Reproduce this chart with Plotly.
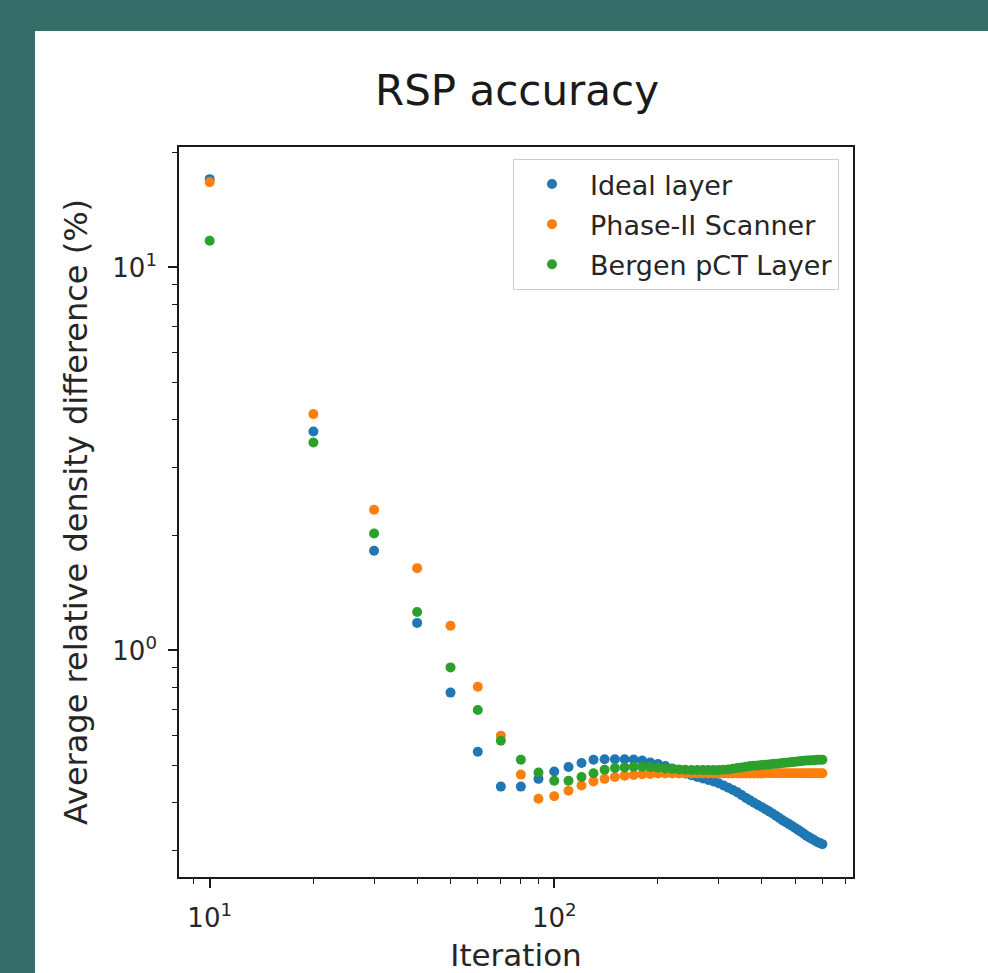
import plotly.graph_objects as go

iterations = [10, 20, 30, 40, 50, 60, 70, 80, 90, 100,
              110, 120, 130, 140, 150, 160, 170, 180, 190, 200,
              210, 220, 230, 240, 250, 260, 270, 280, 290, 300,
              310, 320, 330, 340, 350, 360, 370, 380, 390, 400,
              410, 420, 430, 440, 450, 460, 470, 480, 490, 500,
              510, 520, 530, 540, 550, 560, 570, 580, 590, 600]

ideal_layer = [17.0, 3.73, 1.82, 1.18, 0.776, 0.544, 0.441, 0.441, 0.462, 0.483,
               0.496, 0.508, 0.518, 0.520, 0.520, 0.520, 0.519, 0.516, 0.510, 0.505,
               0.499, 0.492, 0.484, 0.477, 0.472, 0.467, 0.463, 0.459, 0.455, 0.450,
               0.444, 0.438, 0.432, 0.426, 0.419, 0.412, 0.406, 0.400, 0.395, 0.390,
               0.385, 0.380, 0.375, 0.370, 0.365, 0.360, 0.356, 0.352, 0.348, 0.344,
               0.340, 0.336, 0.332, 0.328, 0.325, 0.322, 0.319, 0.316, 0.314, 0.312]

phase2_scanner = [16.7, 4.14, 2.33, 1.64, 1.16, 0.804, 0.599, 0.474, 0.410, 0.416,
                  0.430, 0.444, 0.455, 0.462, 0.467, 0.471, 0.473, 0.475, 0.476, 0.477,
                  0.477, 0.477, 0.477, 0.477, 0.477, 0.477, 0.477, 0.477, 0.477, 0.477,
                  0.477, 0.477, 0.477, 0.477, 0.477, 0.477, 0.477, 0.477, 0.477, 0.477,
                  0.478, 0.478, 0.478, 0.478, 0.478, 0.478, 0.478, 0.478, 0.478, 0.478,
                  0.478, 0.478, 0.478, 0.478, 0.478, 0.478, 0.478, 0.478, 0.478, 0.478]

bergen_pct = [11.74, 3.49, 2.02, 1.26, 0.903, 0.699, 0.581, 0.518, 0.480, 0.457,
              0.457, 0.467, 0.478, 0.488, 0.493, 0.495, 0.497, 0.497, 0.496, 0.494,
              0.492, 0.490, 0.489, 0.488, 0.487, 0.487, 0.487, 0.487, 0.487, 0.487,
              0.488, 0.489, 0.491, 0.493, 0.495, 0.497, 0.499, 0.500, 0.501, 0.502,
              0.503, 0.504, 0.505, 0.506, 0.507, 0.508, 0.509, 0.510, 0.511, 0.512,
              0.513, 0.514, 0.515, 0.516, 0.516, 0.517, 0.517, 0.518, 0.518, 0.518]

series_names = ["Ideal layer", "Phase-II Scanner", "Bergen pCT Layer"]
series_colors = ["#1f77b4", "#ff7f0e", "#2ca02c"]

x_major_ticks = [10, 100]
x_tick_labels = ["10<sup>1</sup>", "10<sup>2</sup>"]
x_minor_ticks = [9, 20, 30, 40, 50, 60, 70, 80, 90, 200, 300, 400, 500, 600, 700]
y_major_ticks = [1, 10]
y_tick_labels = ["10<sup>0</sup>", "10<sup>1</sup>"]
y_minor_ticks = [0.3, 0.4, 0.5, 0.6, 0.7, 0.8, 0.9, 2, 3, 4, 5, 6, 7, 8, 9, 20]

FONT = "DejaVu Sans"
W, H = 988, 973
ML, MR, MT, MB = 179, 135, 147, 96
PW, PH = W - ML - MR, H - MT - MB

def px_to_paper_x(px):
    return (px - ML) / PW

def px_to_paper_y(py):
    return (H - MB - py) / PH

fig = go.Figure()
for i, (name, vals, col) in enumerate(zip(series_names,
                                          [ideal_layer, phase2_scanner, bergen_pct],
                                          series_colors)):
    fig.add_trace(go.Scatter(
        x=iterations, y=vals, mode="markers", name=name,
        legendgroup=f"g{i}",
        marker=dict(color=col, size=10, line=dict(width=0)),
    ))

axis_common = dict(
    type="log", showgrid=False, zeroline=False,
    showline=True, mirror=True, linecolor="#1a1a1a", linewidth=1.6,
    ticks="outside", ticklen=9, tickwidth=1.5, tickcolor="#1a1a1a",
    tickfont=dict(family=FONT, size=26, color="#262626"),
    tickmode="array",
)

fig.update_xaxes(
    **axis_common,
    range=[0.911, 2.867],
    tickvals=x_major_ticks, ticktext=x_tick_labels,
    ticklabelstandoff=8,
    minor=dict(tickmode="array", tickvals=x_minor_ticks, ticks="outside",
               ticklen=5, tickwidth=1.2, tickcolor="#1a1a1a", showgrid=False),
    title=dict(text="Iteration", font=dict(family=FONT, size=31, color="#262626"),
               standoff=18),
)
fig.update_yaxes(
    **axis_common,
    range=[-0.5916, 1.3144],
    tickvals=y_major_ticks, ticktext=y_tick_labels,
    ticklabelstandoff=6,
    minor=dict(tickmode="array", tickvals=y_minor_ticks, ticks="outside",
               ticklen=5, tickwidth=1.2, tickcolor="#1a1a1a", showgrid=False),
    title=dict(text="Average relative density difference (%)",
               font=dict(family=FONT, size=32, color="#262626"), standoff=15),
)

fig.add_shape(type="rect", xref="paper", yref="paper", layer="below",
              x0=px_to_paper_x(35), x1=px_to_paper_x(W + 5),
              y0=px_to_paper_y(H + 5), y1=px_to_paper_y(31),
              fillcolor="white", line=dict(width=0))

fig.update_layout(
    width=W, height=H,
    margin=dict(l=ML, r=MR, t=MT, b=MB, autoexpand=False),
    paper_bgcolor="#356e69",
    plot_bgcolor="white",
    title=dict(text="RSP accuracy", x=517 / W, xanchor="center", xref="container",
               y=1 - 90 / H, yanchor="middle", yref="container",
               font=dict(family="DejaVu Sans", size=42, color="#1a1a1a")),
    legend=dict(
        x=px_to_paper_x(839), xanchor="right",
        y=px_to_paper_y(159), yanchor="top",
        bgcolor="rgba(255,255,255,0.85)", bordercolor="#cccccc", borderwidth=1,
        font=dict(family=FONT, size=27, color="#262626"),
        tracegroupgap=2, itemwidth=66,
    ),
    showlegend=True,
)

fig.write_html("out.html")
